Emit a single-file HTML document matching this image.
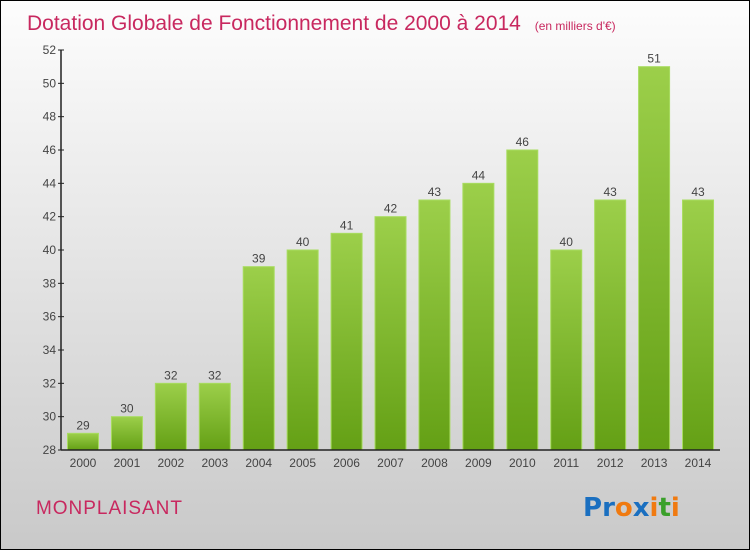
<!DOCTYPE html>
<html><head><meta charset="utf-8"><style>
html,body{margin:0;padding:0}
body{width:750px;height:550px;overflow:hidden;font-family:"Liberation Sans",sans-serif}
</style></head><body>
<svg width="750" height="550" xmlns="http://www.w3.org/2000/svg">
<defs>
<linearGradient id="bg" x1="0" y1="0" x2="0" y2="1"><stop offset="0" stop-color="#fdfdfd"/><stop offset="1" stop-color="#c9c9c9"/></linearGradient>
<linearGradient id="bar" x1="0" y1="0" x2="0" y2="1"><stop offset="0" stop-color="#9ccf4a"/><stop offset="1" stop-color="#64a015"/></linearGradient>
</defs>
<rect x="0.5" y="0.5" width="749" height="549" fill="url(#bg)" stroke="#000"/>
<text x="27" y="30" font-size="21" fill="#c8285f">Dotation Globale de Fonctionnement de 2000 à 2014 <tspan font-size="12" dx="8">(en milliers d'€)</tspan></text>
<g id="plot"></g>
<text x="36" y="514" font-size="19" fill="#c8285f" textLength="146">MONPLAISANT</text>
<text x="583" y="516" font-size="26" font-weight="bold" font-family="'DejaVu Sans',sans-serif"><tspan fill="#1a6fc0">P</tspan><tspan fill="#1a6fc0">r</tspan><tspan fill="#f07a10">o</tspan><tspan fill="#1a6fc0">x</tspan><tspan fill="#f07a10">i</tspan><tspan fill="#3aa02a">t</tspan><tspan fill="#f07a10">i</tspan></text>
</svg>
<script>
const years=["2000","2001","2002","2003","2004","2005","2006","2007","2008","2009","2010","2011","2012","2013","2014"];
const values=[29,30,32,32,39,40,41,42,43,44,46,40,43,51,43];
const yTicks=[28,30,32,34,36,38,40,42,44,46,48,50,52];
const NS="http://www.w3.org/2000/svg";
const g=document.getElementById('plot');
const yMin=28,yMax=52,plotTop=50,plotBot=450;
const y=v=>plotBot-(v-yMin)/(yMax-yMin)*(plotBot-plotTop);
const x=i=>83+i*43.93;
function el(t,a,txt){const e=document.createElementNS(NS,t);for(const k in a)e.setAttribute(k,a[k]);if(txt!=null)e.textContent=txt;g.appendChild(e);return e;}
values.forEach((v,i)=>{
 const b=el('rect',{x:x(i)-15.5,y:y(v),width:31,height:plotBot-y(v),fill:'url(#bar)',stroke:'#a8dc60','stroke-width':1});
 
 
 const l=el('text',{x:x(i),y:y(v)-4,'font-size':12,fill:'#444','text-anchor':'middle'},String(v));
 
 
 const t=el('text',{x:x(i),y:467,'font-size':12,fill:'#444','text-anchor':'middle'},years[i]);
 
 
});
yTicks.forEach(v=>{
 const tk=el('line',{x1:58,x2:64,y1:y(v),y2:y(v),stroke:'#222'});
 
 
 const t=el('text',{x:56,y:y(v)+4,'font-size':12,fill:'#444','text-anchor':'end'},String(v));
 
 
});
const ya=el('line',{x1:61,x2:61,y1:plotTop,y2:plotBot,stroke:'#222','stroke-width':1.5});


const xa=el('line',{x1:61,x2:720,y1:plotBot,y2:plotBot,stroke:'#222','stroke-width':1.5});


</script>
</body></html>
